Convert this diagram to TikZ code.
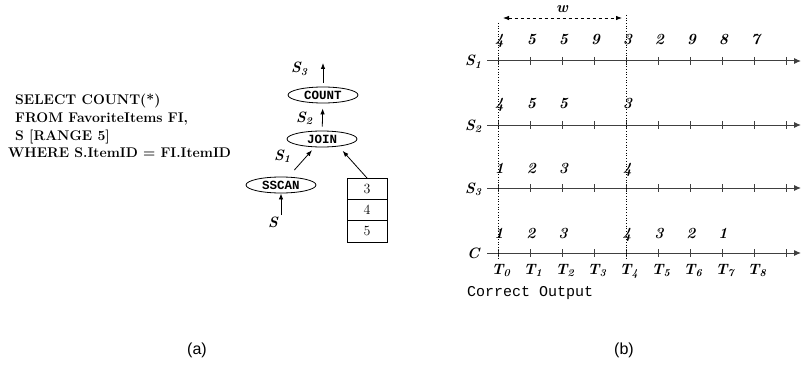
\documentclass[tikz,border=0pt]{standalone}
\usepackage{fontspec}
\usepackage{tikz}
\usetikzlibrary{arrows.meta,shapes}
\newfontfamily\monofam{Liberation Mono}
\newfontfamily\captfam{Liberation Sans}
\newcommand{\bi}[1]{{\bfseries\itshape #1}}
\newcommand{\strm}[2]{{\bfseries\itshape #1\textsubscript{#2}}}

\begin{document}
\begin{tikzpicture}[x=1pt, y=-1pt, >={Latex[length=6pt,width=4.5pt]}]
		\useasboundingbox (0,0) rectangle (801,369);
		\tikzstyle{sql} = [anchor=base west, inner sep=0pt, font=\fontsize{14}{16}\selectfont\bfseries]
		\tikzstyle{op} = [ellipse, draw, line width=0.8pt, minimum width=70pt, minimum height=16pt, inner sep=0pt, font=\fontsize{12.5}{12.5}\selectfont\monofam\bfseries]
		\tikzstyle{cell} = [draw, line width=0.8pt, minimum width=40pt, minimum height=21.2pt, inner sep=0pt, font=\fontsize{14}{14}\selectfont]
		\tikzstyle{lab} = [anchor=base west, inner sep=0pt, font=\fontsize{15}{16}\selectfont]
		\tikzstyle{val} = [anchor=base, inner sep=0pt, font=\fontsize{15.5}{16}\selectfont\bfseries\itshape]
		\tikzstyle{axis} = [line width=1pt, black!75, -{Latex[length=7pt,width=6pt]}]
		\tikzstyle{conn} = [->, line width=0.8pt]
		% (a) query and plan
		\node[sql] (q1) at (15,105) {SELECT COUNT(*)};
		\node[sql] (q2) at (15,122.5) {FROM FavoriteItems FI,};
		\node[sql] (q3) at (15,140) {S [RANGE 5]};
		\node[sql] (q4) at (8,157.5) {WHERE S.ItemID = FI.ItemID};
		\node[op] (count) at (323,95) {COUNT};
		\node[op] (join) at (322,139) {JOIN};
		\node[op] (sscan) at (281,185) {SSCAN};
		\node[cell] (c3) at (367,189) {3};
		\node[cell] (c4) at (367,210.2) {4};
		\node[cell] (c5) at (367,231.4) {5};
		\coordinate (out) at (323,63);
		\coordinate (in) at (281,215);
		\node[lab] (ls3) at (291,73) {\strm{S}{3}};
		\node[lab] (ls2) at (296,122) {\strm{S}{2}};
		\node[lab] (ls1) at (274,160) {\strm{S}{1}};
		\node[lab] (ls) at (268,227) {\bi{S}};
		\draw[conn, shorten <=4pt] (count) -- (out);
		\draw[conn, shorten <=4pt, shorten >=5pt] (join) -- (count);
		\draw[conn, shorten <=9pt, shorten >=4pt] (sscan) -- (join);
		\draw[conn, shorten >=6pt] (c3.north) -- (join.-24);
		\draw[conn] (in) -- (sscan.south);
		\node[font=\fontsize{16}{16}\selectfont\captfam] (capa) at (197,350) {(a)};
		% (b) streams over time
		\foreach \y in {61, 125, 188, 253}
		\draw[axis] (487,\y) -- (801,\y);
		\foreach \y in {61, 125, 188, 253}
		\foreach \i in {0,...,9}
		\draw[line width=0.8pt, black!75] (498+32*\i,\y-4) -- (498+32*\i,\y+4);
		\node[lab] (r1) at (465,66) {\strm{S}{1}};
		\node[lab] (r2) at (465,130) {\strm{S}{2}};
		\node[lab] (r3) at (465,193) {\strm{S}{3}};
		\node[lab] (rc) at (467,258) {\bi{C}};
		\foreach \i/\v in {0/4, 1/5, 2/5, 3/9, 4/3, 5/2, 6/9, 7/8, 8/7}
		\node[val] (v1\i) at (499.5+32*\i,45) {\v};
		\foreach \i/\v in {0/4, 1/5, 2/5, 4/3}
		\node[val] (v2\i) at (499.5+32*\i,108) {\v};
		\foreach \i/\v in {0/1, 1/2, 2/3, 4/4}
		\node[val] (v3\i) at (499.5+32*\i,173) {\v};
		\foreach \i/\v in {0/1, 1/2, 2/3, 4/4, 5/3, 6/2, 7/1}
		\node[val] (vc\i) at (499+32*\i,238) {\v};
		\foreach \i in {0,...,8}
		\node[lab] (t\i) at (491.5+32*\i,274) {\strm{T}{\i}};
		\node[anchor=base west, inner sep=0pt, font=\fontsize{15}{15}\selectfont\monofam] (co) at (467,296) {Correct Output};
		% window
		\coordinate (wl) at (498,23);
		\coordinate (wr) at (626,15);
		\draw[dotted, line width=0.7pt] (wl) -- (498,259);
		\draw[dotted, line width=0.7pt] (wr) -- (626,259);
		\coordinate (al) at (503,18);
		\coordinate (ar) at (622,18);
		\draw[<->, dashed, line width=0.8pt] (al) -- (ar);
		\node[val] (w) at (562,13) {w};
		\node[font=\fontsize{16}{16}\selectfont\captfam] (capb) at (624,350) {(b)};
	\end{tikzpicture}
\end{document}
